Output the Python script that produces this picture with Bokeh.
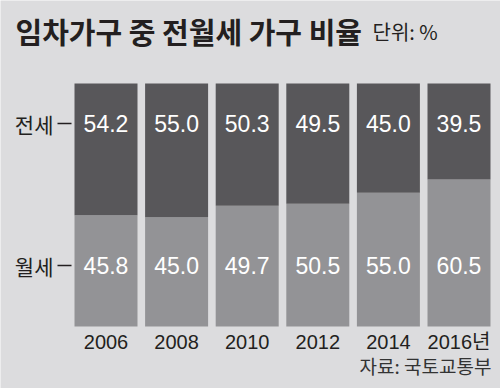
from bokeh.plotting import figure
from bokeh.models import ColumnDataSource, Range1d, Label
from bokeh.core.properties import value
from bokeh.embed import file_html
from bokeh.resources import INLINE

years = ["2006", "2008", "2010", "2012", "2014", "2016년"]
jeonse = [54.2, 55.0, 50.3, 49.5, 45.0, 39.5]
wolse = [45.8, 45.0, 49.7, 50.5, 55.0, 60.5]
series_names = ["전세", "월세"]
title_text = "임차가구 중 전월세 가구 비율"
unit_text = "단위: %"
source_text = "자료: 국토교통부"

BG = "#dcdcde"
DARK = "#58575a"
LIGHT = "#939396"
INK = "#231f20"
KR = "Noto Sans CJK KR"
NUM = "'Liberation Sans Narrow', 'Liberation Sans', Roboto"
YR = "'Liberation Sans', 'Noto Sans CJK KR'"

W, H = 500, 388
# layout (pixels): first bar centre, bar step, baseline and 100% line
BAR0_PX, STEP_PX = 105.5, 70.6
BASE_PX, TOP_PX = 326, 83
PX_PER_UNIT = (BASE_PX - TOP_PX) / 100.0


def px2x(px):
    return (px - BAR0_PX) / STEP_PX


def py2y(py):
    return (BASE_PX - py) / PX_PER_UNIT


xs = list(range(len(years)))
src = ColumnDataSource(dict(
    x=xs, years=years, jeonse=jeonse, wolse=wolse,
    jl=[f"{v:.1f}" for v in jeonse], wl=[f"{v:.1f}" for v in wolse],
))

p = figure(width=W, height=H, output_backend="svg", toolbar_location=None,
           x_range=Range1d(px2x(0), px2x(W)), y_range=Range1d(py2y(H), py2y(0)),
           x_axis_location=None, y_axis_location=None,
           min_border_left=0, min_border_right=0, min_border_top=0, min_border_bottom=0)
p.background_fill_color = BG
p.border_fill_color = BG
p.outline_line_color = None
p.grid.visible = False

p.vbar_stack(["wolse", "jeonse"], x="x", width=63 / STEP_PX, color=[LIGHT, DARK],
             line_color=None, source=src)

TOP_Y = py2y(123)
BOT_Y = py2y(265)
p.text(x="x", y=TOP_Y, text="jl", source=src, text_align="center", text_baseline="middle",
       text_color="white", text_font=value(NUM), text_font_size="23px")
p.text(x="x", y=BOT_Y, text="wl", source=src, text_align="center", text_baseline="middle",
       text_color="white", text_font=value(NUM), text_font_size="23px")

# category labels on x
p.text(x="x", y=py2y(341), text="years", source=src, text_align="center",
       text_baseline="middle", text_color=INK, text_font=value(YR), text_font_size="20px")

# series labels with tick dashes on the left
p.text(x=[px2x(53)] * 2, y=[TOP_Y, BOT_Y], text=series_names, text_align="right",
       text_baseline="middle", text_color=INK, text_font=value(KR), text_font_size="21px")
p.segment(x0=[px2x(57)] * 2, y0=[TOP_Y, BOT_Y], x1=[px2x(71)] * 2, y1=[TOP_Y, BOT_Y],
          line_color=INK, line_width=1.3)

p.add_layout(Label(x=15, y=H - 30, x_units="screen", y_units="screen", text=title_text,
                   text_font=KR, text_font_size="29px", text_font_style="bold",
                   text_color=INK, text_baseline="middle"))
p.add_layout(Label(x=372, y=H - 31, x_units="screen", y_units="screen", text=unit_text,
                   text_font=KR, text_font_size="20px", text_color=INK, text_baseline="middle"))
p.add_layout(Label(x=491, y=H - 365, x_units="screen", y_units="screen", text=source_text,
                   text_font=KR, text_font_size="19px", text_color="#333333",
                   text_baseline="middle", text_align="right"))

open("out.html", "w").write(file_html(p, INLINE))
